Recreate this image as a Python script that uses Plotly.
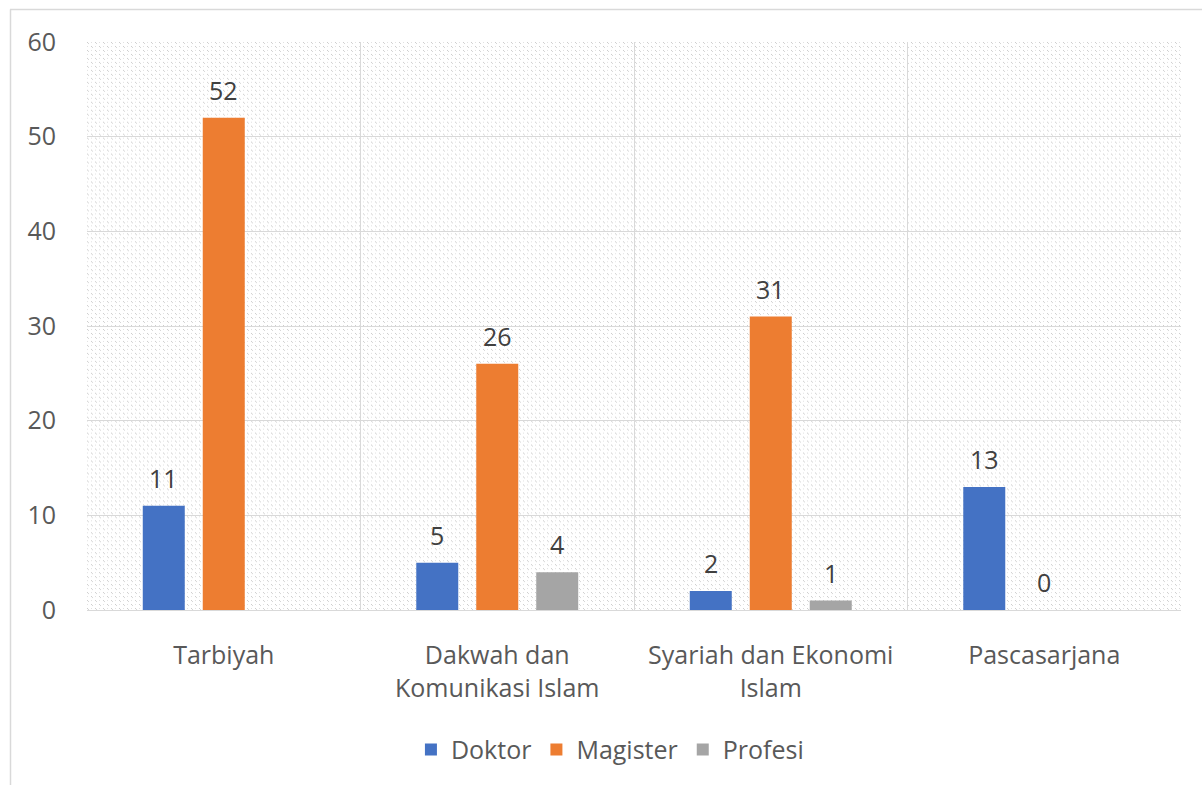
import base64
import plotly.graph_objects as go

categories = ["Tarbiyah", "Dakwah dan<br>Komunikasi Islam", "Syariah dan Ekonomi<br>Islam", "Pascasarjana"]
doktor = [11, 5, 2, 13]
magister = [52, 26, 31, 0]
profesi = [None, 4, 1, None]

series = [("Doktor", doktor, "#4472C4"), ("Magister", magister, "#ED7D31"), ("Profesi", profesi, "#A5A5A5")]
offsets = [-60, 0, 60]  # pixel offset of each series' bar within its group

FONT = "Open Sans, Noto Sans, sans-serif"
FS = 25

fig = go.Figure()
annotations = []
for (name, vals, col), dx in zip(series, offsets):
    fig.add_trace(go.Bar(name=name, x=categories, y=vals,
                         marker=dict(color=col, line=dict(width=0))))
    for c, v in zip(categories, vals):
        if v is None:
            continue
        annotations.append(dict(x=c, y=v, xref="x", yref="y", text=str(v), showarrow=False,
                                xshift=dx, yshift=28, yanchor="middle",
                                font=dict(size=FS, color="#404040", family=FONT)))

# hatched plot-area background as an SVG pattern image
svg = (
    '<svg xmlns="http://www.w3.org/2000/svg" width="1094" height="570" shape-rendering="crispEdges">'
    '<defs><pattern id="p" width="8" height="8" patternUnits="userSpaceOnUse">'
    '<rect width="8" height="8" fill="#ffffff"/>'
    '<rect x="0" y="0" width="1" height="1" fill="#cdcdcd"/>'
    '<rect x="1" y="1" width="1" height="1" fill="#d6d6d6"/>'
    '<rect x="4" y="4" width="1" height="1" fill="#cdcdcd"/>'
    '<rect x="5" y="5" width="1" height="1" fill="#d6d6d6"/>'
    '<rect x="4" y="0" width="1" height="1" fill="#e2e2e2"/>'
    '<rect x="0" y="4" width="1" height="1" fill="#e2e2e2"/>'
    '</pattern></defs>'
    '<rect width="1094" height="570" fill="url(#p)"/></svg>'
)
src = "data:image/svg+xml;base64," + base64.b64encode(svg.encode()).decode()

fig.update_layout(
    width=1202, height=785,
    margin=dict(l=87, r=21, t=42, b=173),
    paper_bgcolor="white", plot_bgcolor="rgba(0,0,0,0)",
    barmode="group", bargap=0.342, bargroupgap=0.3,
    font=dict(family=FONT, size=FS, color="#595959"),
    showlegend=True,
    legend=dict(orientation="h", x=0.478, xanchor="center", y=-0.246, yanchor="middle",
                font=dict(size=FS, color="#595959"), itemwidth=30, traceorder="normal"),
    annotations=annotations,
    images=[dict(source=src, xref="paper", yref="paper", x=0, y=1, sizex=1, sizey=1,
                 xanchor="left", yanchor="top", sizing="stretch", layer="below")],
    shapes=[
        dict(type="line", xref="paper", yref="paper", x0=(10 - 87) / 1094, x1=1.2,
             y0=(612 - 9.5) / 570, y1=(612 - 9.5) / 570, line=dict(color="#d9d9d9", width=1.5)),
        dict(type="line", xref="paper", yref="paper", x0=(10.5 - 87) / 1094, x1=(10.5 - 87) / 1094,
             y0=(612 - 9.5) / 570, y1=-0.4, line=dict(color="#d9d9d9", width=1.5)),
    ],
)
fig.update_xaxes(tickson="boundaries", showgrid=True, gridcolor="#d9d9d9", gridwidth=1,
                 ticks="", ticklen=0, showline=False, zeroline=False, ticklabelstandoff=28,
                 tickfont=dict(size=FS, color="#595959"))
fig.update_yaxes(range=[0, 60], dtick=10, showgrid=True, gridcolor="#d9d9d9", gridwidth=1,
                 zeroline=True, zerolinecolor="#d9d9d9", zerolinewidth=1, showline=False,
                 ticks="", tickfont=dict(size=FS, color="#595959"), ticklabelstandoff=30)

fig.write_html("out.html", config={"displayModeBar": False},
               post_script="document.body.style.margin='0';")
